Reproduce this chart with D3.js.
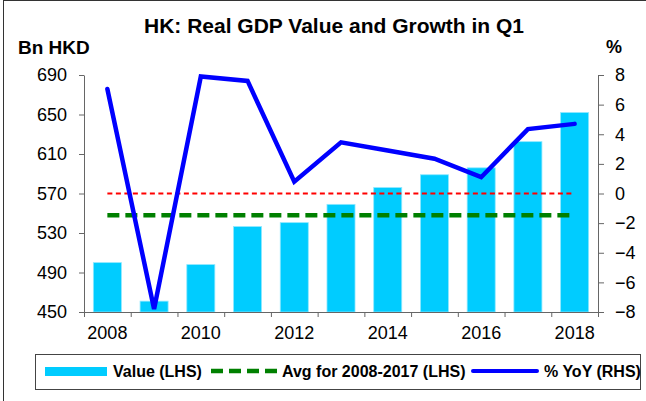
<!DOCTYPE html>
<html>
<head>
<meta charset="utf-8">
<script src="https://cdn.jsdelivr.net/npm/d3@7"></script>
<style>
  body { margin: 0; background: #fff; }
  svg { display: block; font-family: "Liberation Sans", Arial, sans-serif; }
  .axis path, .axis line { stroke: #666; }
  .axis text { fill: #000; font-size: 18px; }
</style>
</head>
<body>
<div id="chart"></div>
<script>
// HK real GDP in Q1
const years = [2008, 2009, 2010, 2011, 2012, 2013, 2014, 2015, 2016, 2017, 2018];
const gdpValue = [500, 461, 498, 536.5, 540.5, 559, 576, 589, 596, 622.5, 652];   // Bn HKD
const yoyGrowth = [7.05, -7.8, 7.9, 7.6, 0.8, 3.45, 2.9, 2.35, 1.1, 4.35, 4.7];  // %
const avgYears = [2008, 2017];
const leftTicks = [450, 490, 530, 570, 610, 650, 690];
const rightTicks = [-8, -6, -4, -2, 0, 2, 4, 6, 8];
const yearLabels = [2008, 2010, 2012, 2014, 2016, 2018];

const W = 646, H = 401;
const plot = {left: 84, right: 598, top: 75, bottom: 312};

const svg = d3.select('#chart').append('svg')
  .attr('width', W)
  .attr('height', H);

// outer frame (right and bottom edges fall outside the picture)
svg.append('rect')
  .attr('x', 3.5).attr('y', 0.5)
  .attr('width', W + 10).attr('height', H + 10)
  .attr('fill', 'none')
  .attr('stroke', '#333');

// scales
const x = d3.scaleBand().domain(years).range([plot.left, plot.right]);
const xEdge = d3.scaleLinear().domain([0, years.length]).range([plot.left, plot.right]);
const yLeft = d3.scaleLinear().domain([450, 690]).range([plot.bottom, plot.top]);
const yRight = d3.scaleLinear().domain([-8, 8]).range([plot.bottom, plot.top]);

const barW = x.bandwidth() * 0.6;
const avg = d3.mean(gdpValue.filter((v, i) => years[i] >= avgYears[0] && years[i] <= avgYears[1]));

// bars
svg.append('g').selectAll('rect')
  .data(years)
  .enter().append('rect')
  .attr('x', d => x(d) + (x.bandwidth() - barW) / 2)
  .attr('y', (d, i) => yLeft(gdpValue[i]))
  .attr('width', barW)
  .attr('height', (d, i) => plot.bottom - yLeft(gdpValue[i]))
  .attr('fill', '#00ccff')
  .attr('stroke', '#8fe8ff')
  .attr('stroke-width', 0.8);

const first = x(years[0]) + x.bandwidth() / 2;
const last = x(years[years.length - 1]) + x.bandwidth() / 2;

// zero line of the % axis
svg.append('line')
  .attr('x1', first).attr('x2', last)
  .attr('y1', yRight(0)).attr('y2', yRight(0))
  .attr('stroke', '#ff0000')
  .attr('stroke-width', 2)
  .attr('stroke-dasharray', '5,3.5');

// average of 2008-2017
svg.append('line')
  .attr('x1', first).attr('x2', last)
  .attr('y1', yLeft(avg)).attr('y2', yLeft(avg))
  .attr('stroke', '#008000')
  .attr('stroke-width', 4.5)
  .attr('stroke-dasharray', '12,6');

// growth line
const line = d3.line()
  .x((d, i) => x(years[i]) + x.bandwidth() / 2)
  .y(d => yRight(d));

svg.append('path')
  .datum(yoyGrowth)
  .attr('d', line)
  .attr('fill', 'none')
  .attr('stroke', '#0000ff')
  .attr('stroke-width', 4.5)
  .attr('stroke-linejoin', 'miter')
  .attr('stroke-linecap', 'round');

// axes
svg.append('g')
  .attr('class', 'axis')
  .attr('transform', `translate(${plot.left},0)`)
  .call(d3.axisLeft(yLeft).tickValues(leftTicks).tickSize(5).tickPadding(12).tickSizeOuter(0));

svg.append('g')
  .attr('class', 'axis')
  .attr('transform', `translate(${plot.right},0)`)
  .call(d3.axisRight(yRight).tickValues(rightTicks).tickSize(6).tickPadding(11).tickSizeOuter(0));

svg.append('g')
  .attr('class', 'axis')
  .attr('transform', `translate(0,${plot.bottom})`)
  .call(d3.axisBottom(xEdge).tickValues(d3.range(years.length + 1)).tickSize(5).tickFormat('').tickSizeOuter(0));

const xLabels = svg.append('g')
  .attr('class', 'axis')
  .attr('transform', `translate(0,${plot.bottom})`)
  .call(d3.axisBottom(x).tickValues(yearLabels).tickSize(0).tickPadding(14));
xLabels.select('.domain').remove();

// titles
svg.append('text')
  .attr('x', 334).attr('y', 33)
  .attr('text-anchor', 'middle')
  .style('font-size', '21px').style('font-weight', 'bold')
  .text('HK: Real GDP Value and Growth in Q1');

svg.append('text')
  .attr('x', 18).attr('y', 54)
  .style('font-size', '19px').style('font-weight', 'bold')
  .text('Bn HKD');

svg.append('text')
  .attr('x', 606).attr('y', 53)
  .style('font-size', '18px').style('font-weight', 'bold')
  .text('%');

// legend
const legend = svg.append('g').attr('transform', 'translate(0,371)');
legend.append('rect')
  .attr('x', 35.5).attr('y', -16.5)
  .attr('width', 605).attr('height', 35)
  .attr('fill', '#fff')
  .attr('stroke', '#444');

legend.append('rect')
  .attr('x', 45).attr('y', -4)
  .attr('width', 62).attr('height', 9)
  .attr('fill', '#00ccff');

legend.append('line')
  .attr('x1', 211).attr('x2', 277)
  .attr('stroke', '#008000').attr('stroke-width', 4.5)
  .attr('stroke-dasharray', '12,6');

legend.append('line')
  .attr('x1', 473).attr('x2', 537)
  .attr('stroke', '#0000ff').attr('stroke-width', 4)
  .attr('stroke-linecap', 'round');

const legendLabels = [
  {x: 113, text: 'Value (LHS)'},
  {x: 282, text: 'Avg for 2008-2017 (LHS)'},
  {x: 544, text: '% YoY (RHS)'}
];
legend.selectAll('.legend-text')
  .data(legendLabels)
  .enter().append('text')
  .attr('class', 'legend-text')
  .attr('x', d => d.x)
  .attr('y', 6)
  .style('font-size', '16px').style('font-weight', 'bold')
  .text(d => d.text);
</script>
</body>
</html>
